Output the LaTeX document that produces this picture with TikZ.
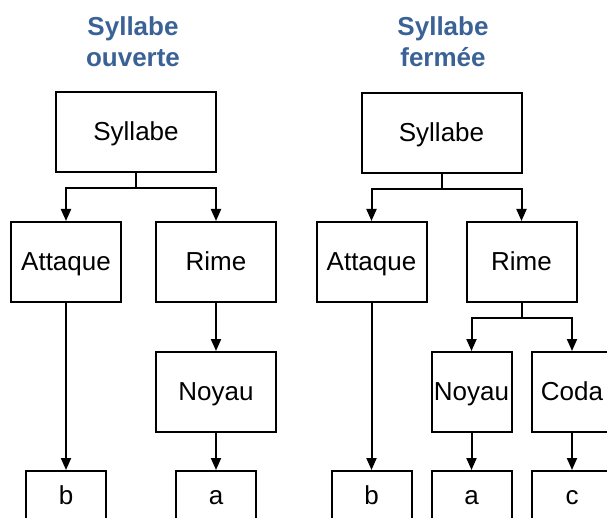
\documentclass[tikz,border=0pt]{standalone}
\usepackage{fontspec}
\setmainfont{Liberation Sans}
\usepackage{tikz}
\usetikzlibrary{arrows.meta}
\definecolor{titleblue}{RGB}{59,98,150}

\begin{document}
\begin{tikzpicture}[x=1pt,y=1pt,
  box/.style={draw,line width=2pt,inner sep=0pt,minimum height=80pt,text height=19pt,text depth=2pt,font=\fontsize{26}{29}\selectfont},
  leaf/.style={box,minimum width=80pt,minimum height=50pt},
  arr/.style={line width=2pt,-{Triangle[length=12pt,width=10pt]}},
  title/.style={align=center,text=titleblue,font=\fontsize{26}{31}\selectfont\bfseries}]
\useasboundingbox (0,0) rectangle (607,517);
\clip (0,0) rectangle (607,517);
% syllabe ouverte
\node[title] (tL) at (133,475) {Syllabe\\ouverte};
\node[box,minimum width=160pt] (sylL) at (136,385) {Syllabe};
\node[box,minimum width=110pt] (attL) at (66,255) {Attaque};
\node[box,minimum width=120pt] (rimL) at (216,255) {Rime};
\node[box,minimum width=120pt] (noyL) at (216,125) {Noyau};
\node[leaf] (bL) at (66,21) {b};
\node[leaf] (aL) at (216,21) {a};
\foreach \n in {attL,rimL} {
  \draw[arr] (sylL.south) -- ++(0,-15) -| (\n.north);
}
\draw[arr] (attL) -- (bL);
\draw[arr] (rimL) -- (noyL);
\draw[arr] (noyL) -- (aL);
% syllabe fermee
\node[title] (tR) at (443,475) {Syllabe\\fermée};
\node[box,minimum width=160pt] (sylR) at (441.5,384) {Syllabe};
\node[box,minimum width=110pt] (attR) at (371.5,255) {Attaque};
\node[box,minimum width=110pt] (rimR) at (521.5,255) {Rime};
\node[box,minimum width=80pt] (noyR) at (471.5,125) {Noyau};
\node[box,minimum width=80pt] (codR) at (572,125) {Coda};
\node[leaf] (bR) at (371.5,21) {b};
\node[leaf] (aR) at (471.5,21) {a};
\node[leaf] (cR) at (572,21) {c};
\foreach \n in {attR,rimR} {
  \draw[arr] (sylR.south) -- ++(0,-15) -| (\n.north);
}
\foreach \n in {noyR,codR} {
  \draw[arr] (rimR.south) -- ++(0,-15) -| (\n.north);
}
\draw[arr] (attR) -- (bR);
\draw[arr] (noyR) -- (aR);
\draw[arr] (codR) -- (cR);
\end{tikzpicture}
\end{document}
